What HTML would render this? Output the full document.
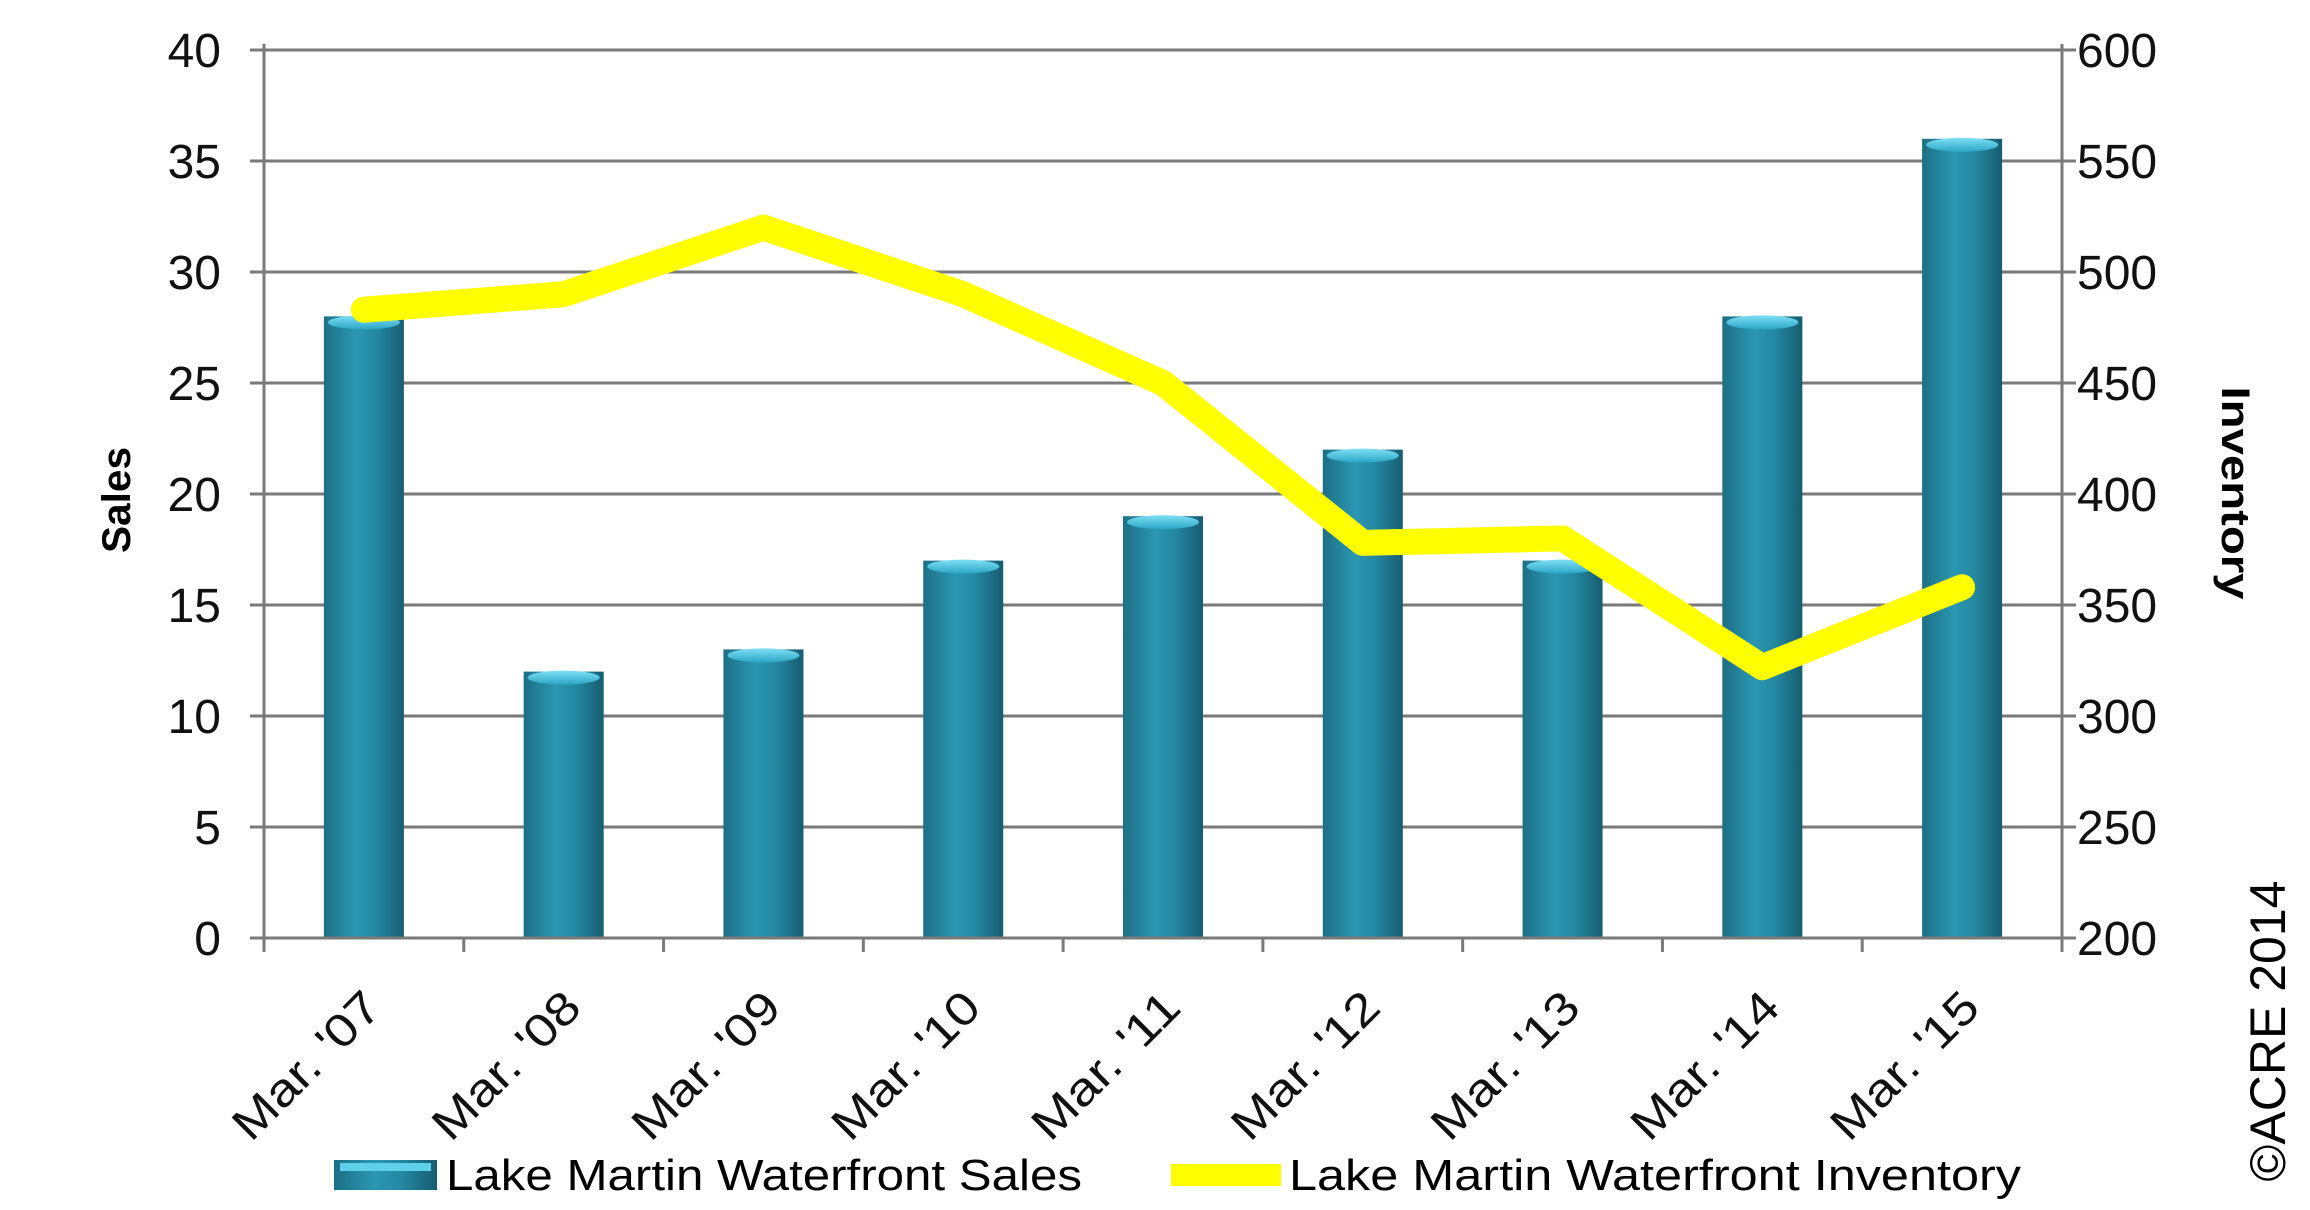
<!DOCTYPE html>
<html><head><meta charset="utf-8"><style>
html,body{margin:0;padding:0;background:#fff;}
svg{display:block;font-family:"Liberation Sans",sans-serif;}
</style></head><body>
<svg id="chart" width="2310" height="1210" viewBox="0 0 2310 1210" xmlns="http://www.w3.org/2000/svg">
<defs>
<linearGradient id="barGrad" x1="0" x2="1" y1="0" y2="0">
<stop offset="0" stop-color="#1d6f84"/><stop offset="0.4" stop-color="#2a97b3"/><stop offset="0.65" stop-color="#2488a2"/><stop offset="1" stop-color="#175d70"/>
</linearGradient>
<linearGradient id="capGrad" x1="0" x2="0" y1="0" y2="1">
<stop offset="0" stop-color="#7fe0f5"/><stop offset="1" stop-color="#2aa6c6"/>
</linearGradient>
</defs>
<g id="grid"></g>
<g id="bars"></g>
<g id="line"></g>
<g id="axes"></g>
<text transform="translate(130,500) rotate(-90)" text-anchor="middle" font-size="40" font-weight="bold" textLength="106" lengthAdjust="spacingAndGlyphs">Sales</text>
<text transform="translate(2222,493) rotate(90)" text-anchor="middle" font-size="40" font-weight="bold" textLength="213" lengthAdjust="spacingAndGlyphs">Inventory</text>
<text transform="translate(2285,1031) rotate(-90)" text-anchor="middle" font-size="50">©ACRE 2014</text>
<g>
<rect x="334" y="1160" width="103" height="30" fill="url(#barGrad)"/>
<rect x="340" y="1163" width="91" height="8" fill="#5fd0ea"/>
<text x="446" y="1190" font-size="44" textLength="636" lengthAdjust="spacingAndGlyphs">Lake Martin Waterfront Sales</text>
<rect x="1171" y="1164" width="110" height="22" fill="#ffff00"/>
<text x="1289" y="1190" font-size="44" textLength="732" lengthAdjust="spacingAndGlyphs">Lake Martin Waterfront Inventory</text>
</g>
</svg>
<script>
const categories=["Mar. '07","Mar. '08","Mar. '09","Mar. '10","Mar. '11","Mar. '12","Mar. '13","Mar. '14","Mar. '15"];
const salesValues=[28,12,13,17,19,22,17,28,36];
const inventoryValues=[483,490,520,490,450,378,380,322,358];
const leftTicks=[0,5,10,15,20,25,30,35,40];
const rightTicks=[200,250,300,350,400,450,500,550,600];
const NS="http://www.w3.org/2000/svg";
const X0=264,X1=2062,Y0=938,Y1=50;
const band=(X1-X0)/categories.length;
function xC(i){return X0+band*(i+0.5);}
function yL(v){return Y0-(v-0)/(40-0)*(Y0-Y1);}
function yR(v){return Y0-(v-200)/(600-200)*(Y0-Y1);}
function mk(tag,attrs,parent){const e=document.createElementNS(NS,tag);for(const k in attrs)e.setAttribute(k,attrs[k]);parent.appendChild(e);return e;}
const grid=document.getElementById('grid'),bars=document.getElementById('bars'),line=document.getElementById('line'),axes=document.getElementById('axes');
leftTicks.forEach((t,i)=>{
  const y=yL(t);
  if(t>0){const g=mk('line',{x1:X0-14,x2:X1+14,y1:y,y2:y,stroke:'#7a7a7a','stroke-width':3},grid);
  
  }
  const lt=mk('text',{x:221,y:y+17,'text-anchor':'end','font-size':48,fill:'#111'},axes);
  lt.textContent=t;
  
  
});
rightTicks.forEach(t=>{
  const y=yR(t);
  const rt=mk('text',{x:2077,y:y+17,'font-size':48,fill:'#111'},axes);
  rt.textContent=t;
  
  
});
salesValues.forEach((v,i)=>{
  const cx=xC(i),w=80,y=yL(v);
  const b=mk('rect',{x:cx-w/2,y:y,width:w,height:Y0-y,fill:'url(#barGrad)'},bars);
  
  
  const c=mk('ellipse',{cx:cx,cy:y+6,rx:w/2-4,ry:7,fill:'url(#capGrad)'},bars);
  
  
});
const pts=inventoryValues.map((v,i)=>xC(i)+','+yR(v)).join(' ');
const pl=mk('polyline',{points:pts,fill:'none',stroke:'#ffff00','stroke-width':26,'stroke-linejoin':'round','stroke-linecap':'round'},line);


const ax=mk('path',{d:`M${X0},${Y1-6}V${Y0+14}M${X1},${Y1-6}V${Y0+14}M${X0-14},${Y0}H${X1+14}`,stroke:'#7a7a7a','stroke-width':3,fill:'none'},axes);


for(let i=0;i<=categories.length;i++){
  const x=X0+band*i;
  const tk=mk('line',{x1:x,x2:x,y1:Y0,y2:Y0+14,stroke:'#7a7a7a','stroke-width':3},axes);
  
  
}
categories.forEach((c,i)=>{
  const x=xC(i)+20,y=Y0+72;
  const t=mk('text',{x:x,y:y,'text-anchor':'end','font-size':46,fill:'#111',textLength:188,lengthAdjust:'spacingAndGlyphs',transform:`rotate(-45 ${x} ${y})`},axes);
  t.textContent=c;
  
  
});
</script>
</body></html>
